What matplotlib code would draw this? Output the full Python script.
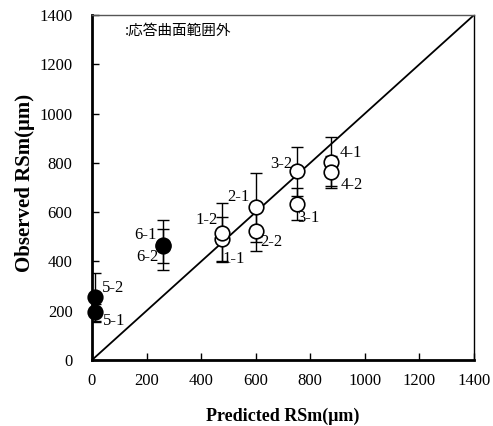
import matplotlib
matplotlib.use("Agg")
import matplotlib.pyplot as plt
import numpy as np

# data
labels = ["1-1", "1-2", "2-1", "2-2", "3-1", "3-2", "4-1", "4-2", "5-1", "5-2", "6-1", "6-2"]
predicted = [475, 475, 600, 600, 750, 750, 875, 875, 12, 12, 262, 262]
observed = [490, 517, 620, 523, 635, 765, 805, 762, 193, 255, 467, 463]
err = [90, 120, 140, 80, 65, 100, 100, 65, 33, 100, 100, 70]
outside = [False, False, False, False, False, False, False, False, True, True, True, True]

# label anchor (data coords) and alignment
label_x = [480, 462, 579, 616, 751, 733, 909, 912, 40, 37, 238, 242]
label_y = [410, 568, 662, 479, 576, 795, 840, 710, 160, 292, 507, 418]
label_ha = ["left", "right", "right", "left", "left", "right", "left", "left", "left", "left", "right", "right"]

ticks = np.arange(0, 1401, 200)
legend_text = ":応答曲面範囲外"

plt.rcParams['font.family'] = ['Liberation Serif', 'DejaVu Serif']

fig = plt.figure(figsize=(4.93, 4.26), dpi=100)
ax = fig.add_axes([0.1866, 0.1549, 0.7749, 0.8099])

ax.plot([0, 1400], [0, 1400], color='black', lw=1.3, zorder=2)

for i in range(len(labels)):
    ax.errorbar(predicted[i], observed[i], yerr=err[i], fmt='none', ecolor='black',
                elinewidth=1.0, capsize=4, capthick=1.0, zorder=3)
    ax.plot(predicted[i], observed[i], 'o', ms=10.5, mec='black', mew=1.2,
            mfc='black' if outside[i] else 'white', zorder=4, clip_on=False)
    ax.text(label_x[i], label_y[i], labels[i], ha=label_ha[i], va='center', fontsize=12)

ax.text(0.086, 0.954, legend_text, transform=ax.transAxes, ha='left', va='center',
        fontsize=10.5, family=['Noto Sans CJK JP', 'DejaVu Sans'])

ax.set_xlim(0, 1400)
ax.set_ylim(0, 1400)
ax.set_xticks(ticks)
ax.set_yticks(ticks)
ax.tick_params(direction='in', length=5, width=1, labelsize=12, top=False, right=False)
ax.tick_params(axis='x', pad=9)
ax.tick_params(axis='y', pad=14)

ax.spines['left'].set_linewidth(2)
ax.spines['bottom'].set_linewidth(2)
ax.spines['top'].set_linewidth(1)
ax.spines['right'].set_linewidth(1)
ax.spines['top'].set_color('#555555')

ax.set_xlabel("Predicted RSm(μm)", fontsize=13, fontweight='bold', labelpad=14)
ax.set_ylabel("Observed RSm(μm)", fontsize=15, fontweight='bold')
ax.yaxis.set_label_coords(-0.148, 0.514)

plt.savefig("out.png", dpi=100)
plt.close()
